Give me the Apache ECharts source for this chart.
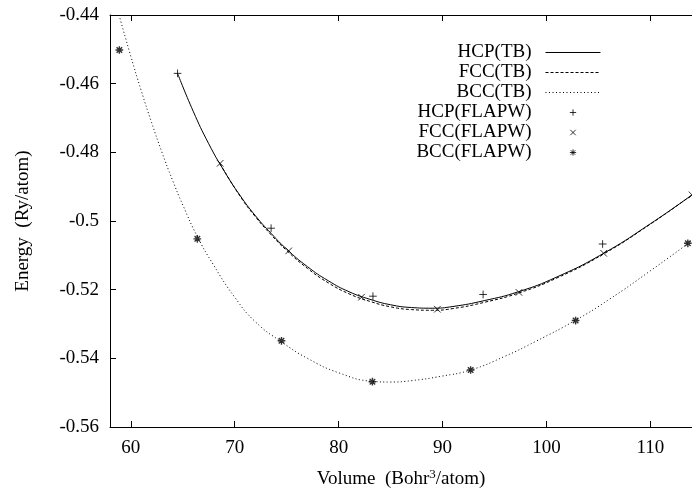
<!DOCTYPE html>
<html>
<head>
<meta charset="utf-8">
<script src="https://cdn.jsdelivr.net/npm/echarts@6/dist/echarts.min.js"></script>
<style>html,body{margin:0;padding:0;background:#fff}#c{width:692px;height:492px}</style>
</head>
<body>
<div id="c"></div>
<script>
// ---- data ----
const xTicks = [60, 70, 80, 90, 100, 110];
const yTicks = [-0.56, -0.54, -0.52, -0.5, -0.48, -0.46, -0.44];

const hcpTBV = [64.5, 66.0, 67.5, 69.0, 70.5, 72.0, 73.5, 75.0, 77.0, 79.0, 81.0, 83.0, 85.0, 87.0, 89.0, 91.0, 94.0, 97.3, 101.0, 105.5, 110.0, 114.0];
const hcpTBE = [-0.4570, -0.4680, -0.4775, -0.4855, -0.4925, -0.4985, -0.5036, -0.5082, -0.5133, -0.5174, -0.5206, -0.5228, -0.5244, -0.5252, -0.5254, -0.5249, -0.5232, -0.5206, -0.5163, -0.5094, -0.5008, -0.4924];

const fccTBV = [68.6, 70.5, 72.0, 73.5, 75.0, 77.0, 79.0, 81.0, 83.0, 85.0, 87.0, 89.0, 91.0, 94.0, 97.3, 101.0, 105.5, 110.0, 114.0];
const fccTBE = [-0.4834, -0.4927, -0.4988, -0.5040, -0.5086, -0.5138, -0.5180, -0.5212, -0.5234, -0.5250, -0.5258, -0.5260, -0.5255, -0.5237, -0.5210, -0.5166, -0.5096, -0.5009, -0.4924];

const bccTBV = [58.87, 60.0, 61.0, 62.0, 63.0, 64.0, 65.0, 66.4, 68.0, 70.0, 72.0, 74.5, 77.0, 80.0, 83.3, 85.0, 87.0, 89.9, 92.7, 96.0, 99.0, 102.8, 106.0, 110.0, 114.0];
const bccTBE = [-0.4400, -0.4520, -0.4620, -0.4713, -0.4800, -0.4880, -0.4953, -0.5045, -0.5130, -0.5222, -0.5294, -0.5352, -0.5400, -0.5442, -0.5467, -0.5469, -0.5465, -0.5452, -0.5434, -0.5394, -0.5350, -0.5289, -0.5229, -0.5145, -0.5057];

const hcpV = [64.5, 73.5, 83.3, 93.9, 105.4];
const hcpE = [-0.4570, -0.5021, -0.5219, -0.5214, -0.5067];
const fccV = [68.6, 75.2, 82.2, 89.5, 97.35, 105.5, 114.0];
const fccE = [-0.4832, -0.5087, -0.5222, -0.5257, -0.5208, -0.5094, -0.4924];
const bccV = [58.9, 66.4, 74.5, 83.25, 92.7, 102.8, 113.6];
const bccE = [-0.4502, -0.5052, -0.5349, -0.5468, -0.5434, -0.5290, -0.5065];

const names = ['HCP(TB)', 'FCC(TB)', 'BCC(TB)', 'HCP(FLAPW)', 'FCC(FLAPW)', 'BCC(FLAPW)'];

// ---- helpers ----
const zip = (a, b) => a.map((v, i) => [v, b[i]]);
const FONT = 'Liberation Serif';
const plusPath = 'path://M0,0M20,20M6.5,10L13.5,10M10,6.5L10,13.5';
const crossPath = 'path://M0,0M20,20M7,7L13,13M7,13L13,7';
const starPath = 'path://M0,0M20,20M6.5,10L13.5,10M10,6.5L10,13.5M7.5,7.5L12.5,12.5M7.5,12.5L12.5,7.5';

const chart = echarts.init(document.getElementById('c'), null, {renderer: 'canvas'});

function lineSeries(name, v, e, type) {
  return {
    name, type: 'line', data: zip(v, e), symbol: 'none', smooth: 0.5,
    lineStyle: {color: '#000', width: 1, type}, itemStyle: {color: '#000'}, z: 2
  };
}
function ptSeries(name, v, e, sym, bw) {
  return {
    name, type: 'scatter', data: zip(v, e), symbol: sym, symbolSize: 22, clip: false,
    itemStyle: {color: 'transparent', borderColor: '#000', borderWidth: bw}, z: 3
  };
}

const tickStyle = {show: true, inside: true, length: 6, lineStyle: {color: '#000', width: 1}};
const axisLineStyle = {show: true, onZero: false, lineStyle: {color: '#000', width: 1}};

const legendData = names.map((n, i) => i < 3
  ? {name: n, itemStyle: {opacity: 0, borderWidth: 0}}
  : {name: n});

chart.setOption({
  animation: false,
  backgroundColor: '#fff',
  textStyle: {fontFamily: FONT},
  grid: {left: 110, right: 0, top: 15, bottom: 65, outerBoundsMode: 'none', containLabel: false},
  legend: {
    orient: 'vertical', align: 'right', right: 86, top: 38,
    itemWidth: 55, itemHeight: 18, itemGap: 1,
    data: legendData,
    textStyle: {fontFamily: FONT, fontSize: 19, color: '#000', padding: [0, 9, 0, 0]},
    itemStyle: {borderWidth: 1},
    lineStyle: {width: 1}
  },
  xAxis: [{
    type: 'value', min: 58, max: 114, position: 'bottom',
    name: 'Volume  (Bohr{sup|3}/atom)', nameLocation: 'middle', nameGap: 41,
    nameTextStyle: {fontFamily: FONT, fontSize: 19, color: '#000',
      rich: {sup: {fontFamily: FONT, fontSize: 13, color: '#000', padding: [0, 0, 9, 0]}}},
    axisLine: axisLineStyle,
    axisTick: Object.assign({customValues: xTicks}, tickStyle),
    axisLabel: {customValues: xTicks, fontFamily: FONT, fontSize: 19, color: '#000', margin: 12},
    splitLine: {show: false}
  }, {
    type: 'value', min: 58, max: 114, position: 'top',
    axisLine: axisLineStyle,
    axisTick: Object.assign({customValues: xTicks}, tickStyle),
    axisLabel: {show: false, customValues: xTicks},
    splitLine: {show: false}
  }],
  yAxis: [{
    type: 'value', min: -0.56, max: -0.44, position: 'left',
    name: 'Energy  (Ry/atom)', nameLocation: 'middle', nameGap: 77,
    nameTextStyle: {fontFamily: FONT, fontSize: 19, color: '#000'},
    axisLine: axisLineStyle,
    axisTick: Object.assign({customValues: yTicks}, tickStyle),
    axisLabel: {customValues: yTicks, fontFamily: FONT, fontSize: 19, color: '#000', margin: 11,
      formatter: v => String(+(+v).toFixed(2))},
    splitLine: {show: false}
  }],
  series: [
    lineSeries(names[0], hcpTBV, hcpTBE, 'solid'),
    lineSeries(names[1], fccTBV, fccTBE, [3, 2]),
    lineSeries(names[2], bccTBV, bccTBE, [1, 2.5]),
    ptSeries(names[3], hcpV, hcpE, plusPath, 1),
    ptSeries(names[4], fccV, fccE, crossPath, 1),
    ptSeries(names[5], bccV, bccE, starPath, 1.4)
  ]
});
</script>
</body>
</html>
